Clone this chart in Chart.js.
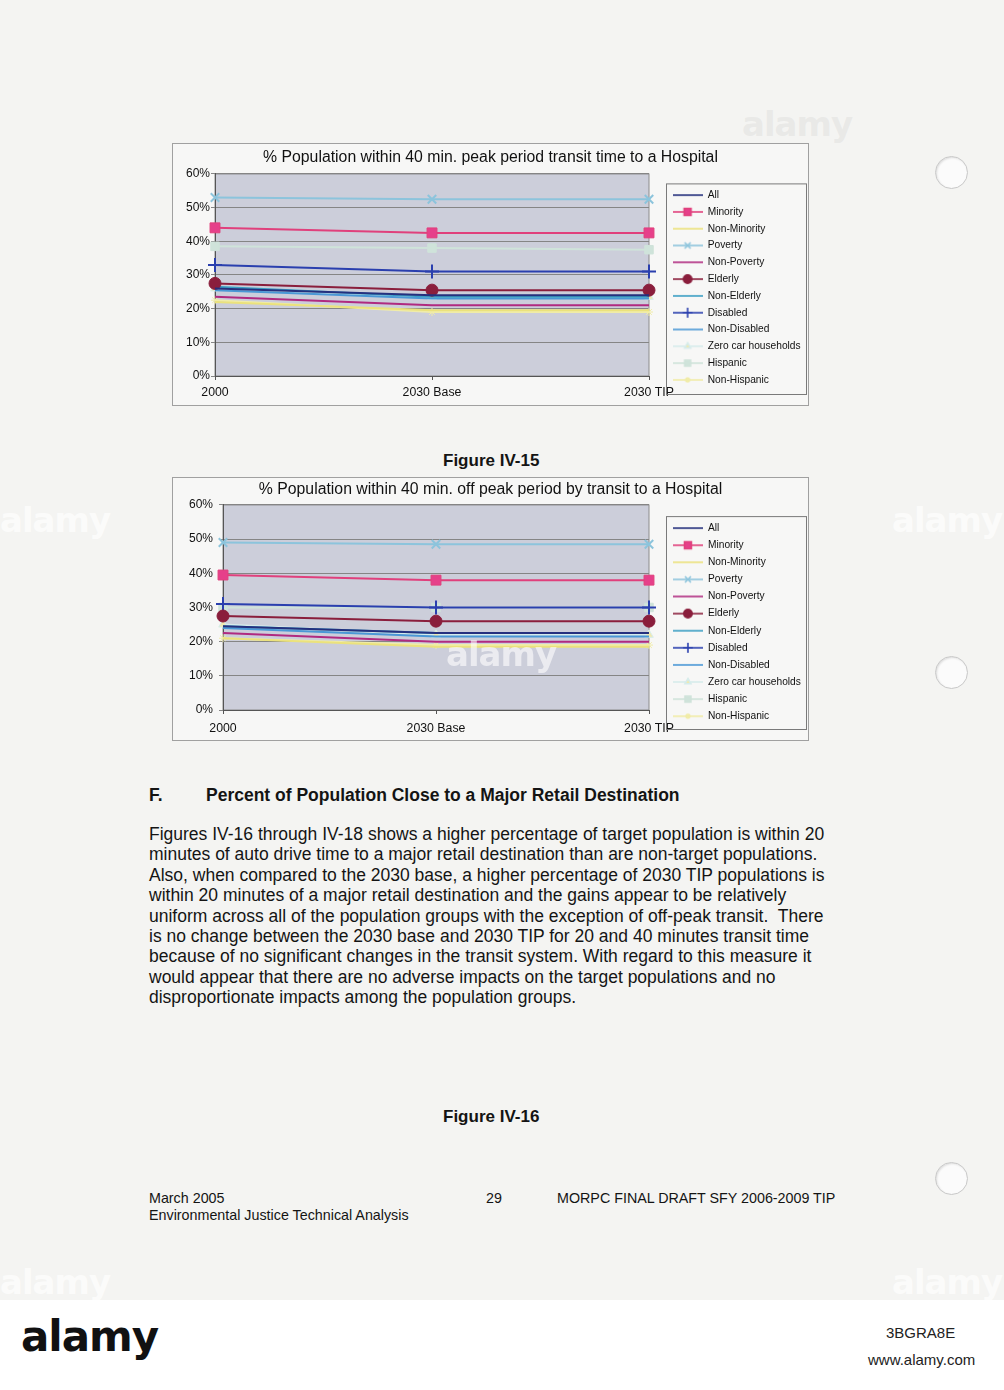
<!DOCTYPE html>
<html>
<head>
<meta charset="utf-8">
<script src="https://cdn.jsdelivr.net/npm/chart.js@4.4.0/dist/chart.umd.min.js"></script>
<style>
    body { margin: 0; width: 1004px; height: 1390px; background: #f4f4f2; position: relative; overflow: hidden;
        font-family: "Liberation Sans", Arial, sans-serif; color: #141414; }
    .box { position: absolute; left: 172px; width: 635px; border: 1px solid #a0a0a0; background: #f7f7f6; }
    .box canvas { display: block; }
    .txt { position: absolute; white-space: nowrap; }
    .caption { font-weight: bold; font-size: 17px; line-height: 20px; }
    .para { left: 149px; top: 824px; font-size: 17.5px; line-height: 20.4px; }
    .foot { font-size: 14.3px; line-height: 17px; }
    .hole { position: absolute; left: 935px; width: 31px; height: 31px; border-radius: 50%;
        background: #fbfbfb; border: 1px solid #c8c8c8; box-shadow: inset 1px 1px 2px #ddd; }
    .band { position: absolute; left: 0; top: 1300px; width: 1004px; height: 90px; background: #fff; }
    .mark { position: absolute; white-space: nowrap; font-family: "DejaVu Sans", sans-serif; font-weight: bold;
        font-size: 34px; letter-spacing: -1px; pointer-events: none; }
</style>
</head>
<body>

<div class="mark" style="left:742px; top:104px; color:rgba(205,205,205,0.3);">alamy</div>
<div class="mark" style="left:0px; top:500px; color:rgba(255,255,255,0.7);">alamy</div>
<div class="mark" style="left:892px; top:500px; color:rgba(255,255,255,0.7);">alamy</div>

<div class="box" style="top:143px;"><canvas id="peakChart" width="635" height="261"></canvas></div>
<div class="txt caption" style="left:443px; top:451px;">Figure IV-15</div>
<div class="box" style="top:477px;"><canvas id="offPeakChart" width="635" height="262"></canvas></div>
<div class="mark" style="left:446px; top:634px; color:rgba(255,255,255,0.6);">alamy</div>

<div class="txt" style="left:149px; top:785px; font-size:17.5px; font-weight:bold; line-height:20px;">F.</div>
<div class="txt" style="left:206px; top:785px; font-size:17.5px; font-weight:bold; line-height:20px;">Percent of Population Close to a Major Retail Destination</div>

<div class="txt para">Figures IV-16 through IV-18 shows a higher percentage of target population is within 20<br>
minutes of auto drive time to a major retail destination than are non-target populations.<br>
Also, when compared to the 2030 base, a higher percentage of 2030 TIP populations is<br>
within 20 minutes of a major retail destination and the gains appear to be relatively<br>
uniform across all of the population groups with the exception of off-peak transit.&nbsp; There<br>
is no change between the 2030 base and 2030 TIP for 20 and 40 minutes transit time<br>
because of no significant changes in the transit system. With regard to this measure it<br>
would appear that there are no adverse impacts on the target populations and no<br>
disproportionate impacts among the population groups.</div>

<div class="txt caption" style="left:443px; top:1107px;">Figure IV-16</div>

<div class="txt foot" style="left:149px; top:1190px;">March 2005</div>
<div class="txt foot" style="left:149px; top:1207px;">Environmental Justice Technical Analysis</div>
<div class="txt foot" style="left:486px; top:1190px;">29</div>
<div class="txt foot" style="left:557px; top:1190px;">MORPC FINAL DRAFT SFY 2006-2009 TIP</div>

<div class="hole" style="top:156px;"></div>
<div class="hole" style="top:656px;"></div>
<div class="hole" style="top:1162px;"></div>

<div class="mark" style="left:0px; top:1262px; color:rgba(255,255,255,0.7);">alamy</div>
<div class="mark" style="left:892px; top:1262px; color:rgba(255,255,255,0.7);">alamy</div>

<div class="band">
    <div class="txt" style="left:21px; top:12px; font-size:42px; font-weight:bold; letter-spacing:-1px; color:#111; font-family:'DejaVu Sans', sans-serif;">alamy</div>
    <div class="txt" style="left:886px; top:24px; font-size:15px; color:#222;">3BGRA8E</div>
    <div class="txt" style="left:868px; top:51px; font-size:15px; color:#222;">www.alamy.com</div>
</div>

<script>
    const categories = ['2000', '2030 Base', '2030 TIP'];
    const groups = ['All', 'Minority', 'Non-Minority', 'Poverty', 'Non-Poverty', 'Elderly', 'Non-Elderly',
        'Disabled', 'Non-Disabled', 'Zero car households', 'Hispanic', 'Non-Hispanic'];
    // % of each group, one array per year column (same order as groups)
    const peak2000 = [26, 44, 22, 53, 23.5, 27.5, 26.5, 33, 25.5, 26, 38.5, 22.5];
    const peakBase = [24, 42.5, 19.5, 52.5, 21, 25.5, 23.5, 31, 23, 23.5, 38, 19];
    const peakTip = [24, 42.5, 19.5, 52.5, 21, 25.5, 23.5, 31, 23, 23.5, 37.5, 19];
    const offPeak2000 = [24.5, 39.5, 21, 49, 22.5, 27.5, 24.5, 31, 24, 25, 30, 21];
    const offPeakBase = [22.5, 38, 18.5, 48.5, 20, 26, 22.5, 30, 21.5, 22, 30, 19];
    const offPeakTip = [22.5, 38, 18.5, 48.5, 20, 26, 22.5, 30, 21.5, 22, 30, 19];
    const yTicks = [0, 10, 20, 30, 40, 50, 60];

    const seriesStyles = [
        {color: '#25307e'},
        {color: '#e0407c', marker: 'rect', radius: 7, fill: '#e6408a'},
        {color: '#ebe27c'},
        {color: '#8cc4dc', marker: 'crossRot', radius: 6},
        {color: '#b02a80'},
        {color: '#8a1e3c', marker: 'circle', radius: 6, fill: '#8a1e3c'},
        {color: '#3a9ec4'},
        {color: '#2a3fae', marker: 'cross', radius: 7},
        {color: '#4a98d6'},
        {color: '#d6eceb', marker: 'triangle', radius: 5, fill: '#efe9b2'},
        {color: '#cfe3da', marker: 'rect', radius: 6, fill: '#cfe3da'},
        {color: '#f0eca8', marker: 'star', radius: 4},
    ];
    const FONT = 'Liberation Sans';

    function legendIcon(s) {
        const c = document.createElement('canvas');
        c.width = 30;
        c.height = 12;
        const ctx = c.getContext('2d');
        ctx.strokeStyle = s.color;
        ctx.lineWidth = 1.6;
        ctx.beginPath();
        ctx.moveTo(0, 6);
        ctx.lineTo(30, 6);
        ctx.stroke();
        if (s.marker) {
            ctx.fillStyle = s.fill || s.color;
            Chart.helpers.drawPoint(ctx, {pointStyle: s.marker, radius: s.radius * 0.7, borderWidth: 1.5}, 15, 6);
        }
        return c;
    }
    const legendIcons = seriesStyles.map(legendIcon);

    function makeChart(id, titleText, v2000, vBase, vTip, g) {
        const datasets = groups.map((name, i) => {
            const s = seriesStyles[i];
            return {
                label: name,
                data: [v2000[i], vBase[i], vTip[i]],
                borderColor: s.color,
                borderWidth: 2,
                pointStyle: s.marker || 'circle',
                pointRadius: s.marker ? s.radius : 0,
                pointHoverRadius: s.marker ? s.radius : 0,
                pointBackgroundColor: s.fill || s.color,
                pointBorderColor: s.color,
                pointBorderWidth: s.marker === 'cross' || s.marker === 'crossRot' ? 2 : 1,
                tension: 0,
                clip: false,
            };
        });

        const plotArea = {
            id: 'plotArea',
            beforeDraw(chart) {
                const {ctx, chartArea: a} = chart;
                ctx.save();
                ctx.fillStyle = '#ccceda';
                ctx.fillRect(a.left, a.top, a.right - a.left, a.bottom - a.top);
                ctx.strokeStyle = '#8c8c8c';
                ctx.lineWidth = 1;
                ctx.strokeRect(a.left, a.top, a.right - a.left, a.bottom - a.top);
                ctx.restore();
            }
        };

        const legendBox = {
            id: 'legendBox',
            beforeInit(chart) {
                const fitValue = chart.legend.fit;
                chart.legend.fit = function fit() {
                    fitValue.bind(chart.legend)();
                    this.width = g.legendWidth;
                }
            },
            afterLayout(chart) {
                const lg = chart.legend;
                lg.left = g.legendLeft;
                lg.right = g.legendRight;
                lg.top = g.legendTop;
                lg.bottom = g.legendBottom;
                lg.width = lg.right - lg.left;
                lg.height = lg.bottom - lg.top;
            },
            afterDraw(chart) {
                const lg = chart.legend;
                const ctx = chart.ctx;
                ctx.save();
                ctx.strokeStyle = '#7a7a7a';
                ctx.lineWidth = 1;
                ctx.strokeRect(lg.left + 0.5, lg.top + 0.5, lg.width - 1, lg.height - 1);
                ctx.restore();
            }
        };

        return new Chart(document.getElementById(id), {
            type: 'line',
            data: {labels: categories, datasets: datasets},
            options: {
                responsive: false,
                animation: false,
                layout: {padding: 0},
                plugins: {
                    title: {
                        display: true,
                        text: titleText,
                        color: '#111',
                        font: {family: FONT, size: 15.8, weight: 'normal'},
                        padding: {top: g.titleTop, bottom: g.titleBottom},
                    },
                    legend: {
                        position: 'right',
                        align: 'start',
                        labels: {
                            usePointStyle: true,
                            pointStyleWidth: 30,
                            boxHeight: 10,
                            padding: g.legendPad,
                            color: '#111',
                            font: {family: FONT, size: 10.2},
                            generateLabels(chart) {
                                const items = Chart.defaults.plugins.legend.labels.generateLabels(chart);
                                items.forEach((item, i) => item.pointStyle = legendIcons[i]);
                                return items;
                            }
                        }
                    },
                    tooltip: {enabled: false},
                },
                scales: {
                    x: {
                        offset: false,
                        grid: {drawOnChartArea: false, tickLength: 4, color: '#555'},
                        border: {color: '#555'},
                        ticks: {color: '#111', padding: g.xPad, maxRotation: 0, font: {family: FONT, size: 12.3}},
                        afterFit(scale) { scale.height = g.xHeight; }
                    },
                    y: {
                        min: 0,
                        max: 60,
                        afterBuildTicks(scale) { scale.ticks = yTicks.map(v => ({value: v})); },
                        grid: {color: '#858585', tickLength: 4, lineWidth: 1},
                        border: {color: '#555'},
                        ticks: {
                            color: '#111', padding: g.yPad, font: {family: FONT, size: 12},
                            callback: v => v + '%'
                        },
                        afterFit(scale) { scale.width = g.yWidth; }
                    }
                }
            },
            plugins: [plotArea, legendBox],
        });
    }

    makeChart('peakChart', '% Population within 40 min. peak period transit time to a Hospital',
        peak2000, peakBase, peakTip, {
            titleTop: 4.5, titleBottom: 6.5, yWidth: 42, yPad: 1, xHeight: 29, xPad: 5,
            legendWidth: 159, legendLeft: 493, legendRight: 634, legendTop: 39.4, legendBottom: 251, legendPad: 6.6
        });
    makeChart('offPeakChart', '% Population within 40 min. off peak period by transit to a Hospital',
        offPeak2000, offPeakBase, offPeakTip, {
            titleTop: 2.5, titleBottom: 5.5, yWidth: 50, yPad: 6, xHeight: 30, xPad: 7,
            legendWidth: 159, legendLeft: 493, legendRight: 634, legendTop: 38.1, legendBottom: 252, legendPad: 6.9
        });
</script>
</body>
</html>
